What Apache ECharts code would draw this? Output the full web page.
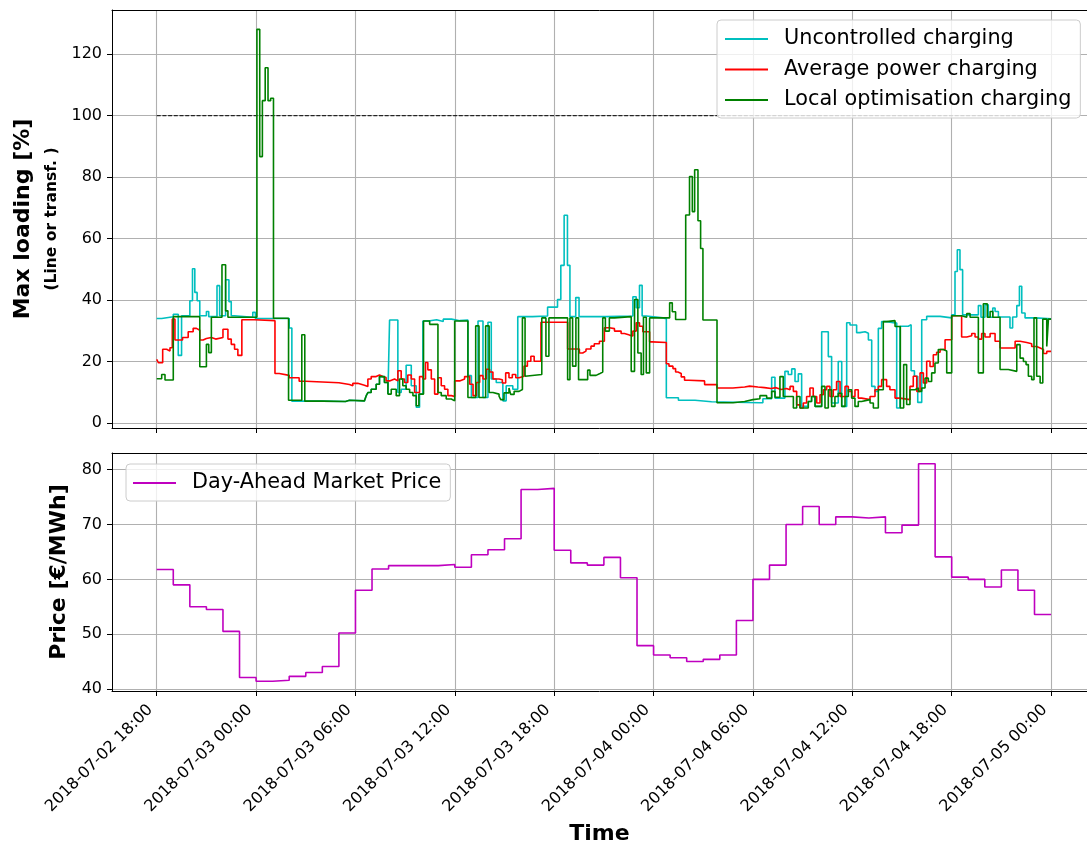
<!DOCTYPE html>
<html>
<head>
<meta charset="utf-8">
<script src="https://cdn.jsdelivr.net/npm/echarts@6/dist/echarts.min.js"></script>
<style>
  html, body { margin: 0; padding: 0; background: #ffffff; }
  #chart { width: 1087px; height: 846px; }
</style>
</head>
<body>
<div id="chart"></div>
<script>
// Hours are counted from 2018-07-02 18:00; each pair is [hour, value] and the value holds until the next pair.
const startTime = Date.UTC(2018, 6, 2, 18, 0);

// Max loading [%] for the three charging strategies
const uncontrolled = [
  [0, 34.0], [0.3, 34.6], [1.0, 35.4], [1.3, 22.0], [1.5, 34.9], [2.0, 39.8], [2.16, 50.2], [2.3, 42.5],
  [2.44, 39.8], [2.6, 34.9], [3.0, 36.3], [3.14, 34.6], [3.64, 44.7], [3.8, 34.9], [4.16, 46.6], [4.36, 39.5],
  [4.5, 34.9], [4.7, 34.4], [5.8, 36.0], [5.96, 34.0], [8.0, 30.9], [8.16, 7.1], [10.0, 7.0], [11.4, 7.4],
  [11.64, 7.2], [12.54, 6.7], [12.65, 8.9], [12.75, 9.9], [12.95, 11.0], [13.25, 12.6], [13.45, 15.1], [13.75, 13.2],
  [13.96, 9.4], [14.06, 33.5], [14.56, 9.9], [14.76, 11.0], [15.06, 18.8], [15.37, 12.1], [15.67, 5.1], [15.87, 9.4],
  [16.07, 33.2], [16.4, 33.6], [16.9, 33.0], [17.3, 33.8], [17.8, 33.3], [18.3, 33.5], [18.79, 15.4], [19.0, 8.3],
  [19.4, 33.2], [19.7, 8.3], [20.0, 32.8], [20.2, 14.3], [20.5, 13.2], [20.9, 7.2], [21.1, 12.1], [21.5, 11.0],
  [21.8, 34.6], [22.69, 34.8], [23.6, 37.7], [24.2, 40.2], [24.4, 51.3], [24.6, 67.6], [24.8, 51.3], [24.95, 34.6],
  [25.3, 40.8], [25.5, 34.6], [27.13, 34.8], [28.75, 41.1], [28.95, 37.5], [29.15, 44.8], [29.31, 34.8], [29.56, 34.2],
  [30.57, 33.9], [30.77, 8.2], [31.5, 7.4], [32.5, 6.9], [33.5, 6.6], [36.4, 6.6], [36.6, 7.9], [37.13, 14.9],
  [37.33, 8.1], [37.93, 16.8], [38.13, 15.8], [38.34, 17.6], [38.54, 13.5], [38.74, 16.0], [38.94, 5.4], [39.34, 7.0],
  [39.54, 8.6], [39.75, 5.4], [40.15, 29.7], [40.55, 21.6], [40.75, 6.5], [41.15, 20.0], [41.36, 5.4], [41.66, 32.6],
  [41.86, 31.9], [42.26, 29.4], [42.46, 29.7], [42.77, 29.2], [42.97, 27.0], [43.17, 11.9], [43.37, 10.3], [43.57, 30.8],
  [43.77, 33.0], [44.07, 32.5], [44.68, 4.9], [44.88, 31.5], [45.38, 32.0], [45.55, 17.0], [45.75, 15.2], [45.95, 6.7],
  [46.19, 33.6], [46.49, 34.7], [47.3, 34.2], [48.0, 35.2], [48.2, 49.3], [48.34, 56.4], [48.5, 49.9], [48.66, 35.2],
  [49.61, 38.2], [49.77, 34.4], [50.01, 38.5], [50.21, 34.4], [50.48, 37.4], [50.62, 36.3], [50.82, 34.5], [51.52, 30.9],
  [51.68, 34.5], [51.93, 38.2], [52.09, 44.5], [52.23, 35.8], [52.43, 34.2], [53.03, 33.9], [54, 33.9]
];

const averagePower = [
  [0, 20.7], [0.1, 19.6], [0.36, 24.0], [0.6, 23.4], [0.8, 24.5], [0.94, 33.8], [1.1, 27.0], [1.56, 27.8],
  [1.9, 29.7], [2.2, 30.8], [2.4, 30.2], [2.6, 27.0], [2.8, 27.5], [3.0, 27.8], [3.3, 27.3], [3.56, 27.8],
  [4.0, 30.5], [4.3, 27.3], [4.5, 25.6], [4.7, 24.0], [4.9, 22.0], [5.14, 33.6], [5.9, 33.3], [7.14, 16.1],
  [7.4, 15.5], [8.0, 14.7], [8.6, 13.6], [9.0, 13.1], [11.0, 12.5], [11.64, 12.1], [11.84, 12.9], [12.14, 12.3],
  [12.54, 11.9], [12.75, 14.3], [12.95, 15.1], [13.25, 15.6], [13.45, 15.1], [13.65, 14.8], [13.85, 13.7], [14.06, 14.3],
  [14.36, 13.7], [14.56, 17.0], [14.76, 14.3], [14.96, 13.2], [15.16, 15.6], [15.37, 14.3], [15.57, 9.9], [15.87, 15.1],
  [16.07, 14.3], [16.23, 19.7], [16.37, 17.3], [16.58, 14.3], [16.78, 9.4], [16.98, 14.7], [17.18, 12.1], [17.38, 11.0],
  [17.58, 8.9], [17.79, 8.6], [17.99, 13.7], [18.29, 14.3], [18.59, 15.1], [18.9, 12.6], [19.1, 8.9], [19.3, 13.2],
  [19.5, 15.4], [19.7, 14.3], [19.9, 17.5], [20.1, 16.6], [20.3, 14.3], [20.67, 14.1], [20.87, 13.0], [21.07, 16.3],
  [21.27, 14.7], [21.47, 15.8], [21.68, 14.7], [21.88, 15.2], [22.18, 18.5], [22.38, 20.1], [22.59, 21.7], [22.79, 20.1],
  [23.2, 32.8], [24.81, 24.1], [25.52, 22.8], [25.72, 23.4], [25.92, 24.1], [26.22, 25.0], [26.42, 25.8], [26.73, 26.6],
  [27.03, 31.0], [27.33, 30.7], [27.64, 29.9], [28.04, 29.1], [28.24, 28.6], [28.55, 28.3], [28.75, 29.9], [28.95, 32.6],
  [29.15, 31.5], [29.35, 29.7], [29.76, 26.4], [29.92, 26.2], [30.77, 19.3], [30.93, 18.5], [31.17, 17.7], [31.33, 16.6],
  [31.47, 16.1], [31.67, 15.0], [31.87, 13.9], [32.13, 13.7], [33.08, 12.5], [33.83, 11.4], [34.79, 11.7], [35.5, 12.0],
  [35.8, 11.7], [36.3, 11.5], [36.7, 11.2], [37.1, 11.5], [37.4, 10.9], [37.7, 11.2], [38.03, 10.8], [38.24, 11.9],
  [38.44, 10.3], [38.64, 5.9], [38.84, 4.9], [39.04, 6.5], [39.24, 8.6], [39.44, 11.4], [39.64, 8.6], [39.85, 6.5],
  [40.05, 9.2], [40.25, 10.8], [40.45, 11.9], [40.65, 8.6], [40.85, 10.8], [41.05, 13.5], [41.26, 8.6], [41.56, 11.9],
  [41.76, 10.3], [41.96, 8.6], [42.16, 10.8], [42.36, 8.1], [42.56, 7.6], [43.07, 8.6], [43.37, 10.8], [43.57, 11.9],
  [43.77, 14.1], [44.07, 11.9], [44.27, 10.8], [44.58, 8.1], [44.88, 7.6], [45.48, 11.9], [45.68, 15.2], [45.89, 10.3],
  [46.09, 16.3], [46.29, 13.0], [46.49, 20.1], [46.69, 18.4], [46.89, 22.2], [47.09, 23.0], [47.3, 23.9], [47.6, 27.1],
  [48.0, 34.9], [48.6, 28.0], [48.91, 28.4], [49.21, 29.1], [49.41, 28.0], [49.61, 27.3], [49.81, 29.1], [50.01, 28.0],
  [50.32, 29.1], [50.62, 26.6], [50.92, 24.4], [51.83, 26.6], [52.13, 26.2], [52.53, 25.8], [52.83, 24.9], [53.13, 24.4],
  [53.34, 23.9], [53.54, 22.6], [53.74, 23.3], [54, 23.3]
];

const localOptimisation = [
  [0, 14.4], [0.3, 15.8], [0.5, 14.0], [1.0, 34.6], [2.6, 18.3], [3.0, 25.6], [3.14, 22.9], [3.3, 34.4],
  [3.94, 51.5], [4.16, 36.5], [4.3, 34.4], [6.05, 128.1], [6.22, 86.7], [6.38, 104.9], [6.55, 115.6], [6.72, 104.9],
  [6.88, 105.7], [7.05, 34.1], [7.96, 7.4], [8.76, 28.7], [8.94, 7.1], [10.0, 7.0], [11.4, 7.4], [11.64, 7.2],
  [12.54, 6.7], [12.65, 8.9], [12.75, 9.9], [12.95, 11.0], [13.25, 12.6], [13.45, 15.1], [13.75, 13.2], [13.96, 9.4],
  [14.16, 11.0], [14.46, 8.9], [14.66, 14.3], [14.86, 12.1], [15.06, 11.0], [15.27, 9.9], [15.47, 8.9], [15.67, 5.6],
  [15.83, 9.4], [16.11, 33.2], [16.48, 32.1], [16.98, 9.9], [17.18, 8.9], [17.48, 7.8], [17.79, 7.2], [17.99, 33.2],
  [18.79, 8.3], [19.26, 31.6], [19.46, 8.3], [19.86, 31.6], [20.07, 9.9], [20.3, 9.4], [20.67, 8.7], [20.77, 7.6],
  [20.97, 9.8], [21.27, 11.4], [21.37, 9.3], [21.58, 10.3], [21.88, 10.9], [22.08, 34.2], [22.24, 15.2], [22.34, 15.8],
  [23.25, 34.2], [23.5, 21.7], [23.68, 34.2], [24.81, 14.1], [24.95, 34.2], [25.11, 18.5], [25.31, 34.2], [25.47, 14.1],
  [26.02, 17.2], [26.16, 15.5], [26.53, 16.0], [26.73, 16.6], [26.93, 34.2], [27.09, 29.9], [27.33, 34.2], [27.64, 34.6],
  [28.65, 16.8], [28.85, 40.2], [29.05, 22.8], [29.25, 15.8], [29.39, 34.4], [29.56, 16.3], [29.76, 34.2], [30.97, 39.1],
  [31.13, 36.2], [31.33, 33.7], [31.94, 67.7], [32.17, 80.2], [32.34, 68.8], [32.48, 82.4], [32.68, 65.8], [32.84, 56.8],
  [32.98, 33.5], [33.83, 6.6], [34.8, 7.0], [35.5, 7.6], [36.0, 7.9], [36.42, 8.9], [36.83, 8.1], [37.13, 10.3],
  [37.33, 8.4], [37.63, 15.1], [37.83, 8.6], [38.44, 4.9], [38.64, 8.6], [38.84, 4.9], [39.34, 7.0], [39.54, 8.6],
  [39.75, 5.4], [40.15, 11.9], [40.35, 4.9], [40.55, 10.8], [40.75, 5.4], [40.95, 8.6], [41.15, 9.7], [41.36, 5.4],
  [41.56, 8.6], [41.76, 10.8], [41.96, 8.1], [42.16, 5.4], [42.36, 7.0], [42.56, 7.6], [43.07, 6.5], [43.27, 4.9],
  [43.57, 10.8], [43.87, 33.0], [44.07, 33.3], [44.58, 31.4], [44.9, 4.9], [45.1, 19.0], [45.28, 6.0], [45.48, 10.8],
  [45.79, 11.4], [45.99, 10.3], [46.19, 11.4], [46.39, 14.6], [46.59, 13.5], [46.79, 16.3], [46.99, 19.5], [47.19, 23.9],
  [47.5, 23.4], [47.7, 16.3], [48.0, 34.9], [48.6, 34.4], [48.91, 35.6], [49.11, 34.4], [49.61, 16.3], [49.91, 38.8],
  [50.15, 34.4], [50.32, 36.3], [50.48, 34.4], [50.92, 17.4], [51.42, 16.8], [51.93, 25.5], [52.13, 21.1], [52.33, 20.0],
  [52.49, 19.0], [52.63, 15.2], [52.83, 14.1], [52.97, 34.2], [53.13, 15.2], [53.34, 13.0], [53.5, 33.8], [53.74, 24.9],
  [53.84, 33.8], [54, 33.8]
];

// Rated loading limit, drawn as a dashed reference line across the period
const loadingLimit = 100;
const limitSpan = [0, 54];

// Day-ahead market price [€/MWh], one value per hour from 18:00
const priceHours = [
  0, 1, 2, 3, 4, 5, 6, 7, 8, 9, 10, 11, 12, 13, 14, 15, 16, 17, 18, 19, 20, 21, 22, 23, 24, 25, 26,
  27, 28, 29, 30, 31, 32, 33, 34, 35, 36, 37, 38, 39, 40, 41, 42, 43, 44, 45, 46, 47, 48, 49, 50, 51, 52, 53
];
const priceValues = [
  61.8, 59.0, 55.0, 54.5, 50.5, 42.1,
  41.4, 41.6, 42.3, 43.0, 44.1, 50.2, 58.0, 61.9, 62.5, 62.5, 62.5, 62.7,
  62.2, 64.5, 65.4, 67.4, 76.4, 76.6, 65.3, 63.0, 62.6, 64.0, 60.3, 47.9,
  46.2, 45.7, 45.0, 45.4, 46.2, 52.5, 60.0, 62.6, 70.0, 73.3, 70.0, 71.4,
  71.2, 71.4, 68.5, 69.9, 81.1, 64.1, 60.4, 60.0, 58.6, 61.7, 58.0, 53.6
];
const priceEnd = 54;

// Axis ticks
const hourTicks = [0, 6, 12, 18, 24, 30, 36, 42, 48, 54];
const loadingTicks = [0, 20, 40, 60, 80, 100, 120];
const priceTicks = [40, 50, 60, 70, 80];

// The time axis runs past the right edge of the page, so its visible span ends at 56.17 h
const HOUR_MIN = -2.7;
const HOUR_MAX = 56.17;

const FONT = 'DejaVu Sans';
const GRID_LINE = { color: '#b0b0b0', width: 1.1 };
const AXIS_LINE = { color: '#000000', width: 1 };

function pad2(n) { return String(n).padStart(2, '0'); }
function hourLabel(h) {
  const d = new Date(startTime + h * 3600 * 1000);
  return d.getUTCFullYear() + '-' + pad2(d.getUTCMonth() + 1) + '-' + pad2(d.getUTCDate()) +
    ' ' + pad2(d.getUTCHours()) + ':' + pad2(d.getUTCMinutes());
}

const priceData = priceHours.map((h, i) => [h, priceValues[i]]);
priceData.push([priceEnd, priceValues[priceValues.length - 1]]);
const limitData = limitSpan.map(h => [h, loadingLimit]);

function xAxisFor(gridIndex, withLabels) {
  return {
    type: 'value', gridIndex: gridIndex, min: HOUR_MIN, max: HOUR_MAX, position: 'bottom',
    axisLine: { show: true, onZero: false, lineStyle: AXIS_LINE },
    axisTick: { show: true, customValues: hourTicks, length: 5, lineStyle: AXIS_LINE },
    axisLabel: {
      show: withLabels, customValues: hourTicks, rotate: 45, margin: 10, padding: [0, 9, 0, 0],
      formatter: hourLabel, fontFamily: FONT, fontSize: 16, color: '#000000'
    },
    splitLine: { show: true, lineStyle: GRID_LINE },
    name: withLabels ? 'Time' : '',
    nameLocation: 'middle', nameGap: 132,
    nameTextStyle: { fontFamily: FONT, fontSize: 22, fontWeight: 'bold', color: '#000000' }
  };
}

// Plain frame line along the top of a panel
function topFrame(gridIndex) {
  return {
    type: 'value', gridIndex: gridIndex, min: HOUR_MIN, max: HOUR_MAX, position: 'top',
    axisLine: { show: true, onZero: false, lineStyle: AXIS_LINE },
    axisTick: { show: false }, axisLabel: { show: false }, splitLine: { show: false }
  };
}

function lineSeries(name, data, color) {
  return {
    name: name, type: 'line', xAxisIndex: 0, yAxisIndex: 0, step: 'end',
    data: data, symbol: 'none', showSymbol: false,
    lineStyle: { color: color, width: 1.6 }, itemStyle: { color: color },
    emphasis: { disabled: true }
  };
}

const chart = echarts.init(document.getElementById('chart'), null, { renderer: 'canvas' });

chart.setOption({
  animation: false,
  backgroundColor: '#ffffff',
  textStyle: { fontFamily: FONT },
  grid: [
    { left: 112, top: 10, right: 0, height: 418 },
    { left: 112, top: 453, right: 0, height: 238 }
  ],
  xAxis: [xAxisFor(0, false), xAxisFor(1, true), topFrame(0), topFrame(1)],
  yAxis: [
    {
      type: 'value', gridIndex: 0, min: -1.63, max: 134.4,
      axisLine: { show: true, onZero: false, lineStyle: AXIS_LINE },
      axisTick: { show: true, customValues: loadingTicks, length: 5, lineStyle: AXIS_LINE },
      axisLabel: { customValues: loadingTicks, margin: 10, fontFamily: FONT, fontSize: 16, color: '#000000' },
      splitLine: { show: true, lineStyle: GRID_LINE },
      name: '{a|Max loading [%]}\n{b|(Line or transf. )}',
      nameLocation: 'middle', nameRotate: 90, nameGap: 45,
      nameTextStyle: {
        color: '#000000',
        rich: {
          a: { fontFamily: FONT, fontSize: 22, fontWeight: 'bold', lineHeight: 28, color: '#000000' },
          b: { fontFamily: FONT, fontSize: 15.5, fontWeight: 'bold', lineHeight: 30, color: '#000000' }
        }
      }
    },
    {
      type: 'value', gridIndex: 1, min: 39.63, max: 83.05,
      axisLine: { show: true, onZero: false, lineStyle: AXIS_LINE },
      axisTick: { show: true, customValues: priceTicks, length: 5, lineStyle: AXIS_LINE },
      axisLabel: { customValues: priceTicks, margin: 10, fontFamily: FONT, fontSize: 16, color: '#000000' },
      splitLine: { show: true, lineStyle: GRID_LINE },
      name: 'Price [€/MWh]',
      nameLocation: 'middle', nameRotate: 90, nameGap: 38,
      nameTextStyle: { fontFamily: FONT, fontSize: 22, fontWeight: 'bold', color: '#000000' }
    }
  ],
  legend: [
    {
      data: ['Uncontrolled charging', 'Average power charging', 'Local optimisation charging'],
      orient: 'vertical', left: 717, top: 20,
      icon: 'rect', itemWidth: 43, itemHeight: 2, itemGap: 6.5,
      padding: [7, 9, 6, 8],
      selectedMode: false,
      backgroundColor: 'rgba(255,255,255,0.8)', borderColor: '#cccccc', borderWidth: 1, borderRadius: 4,
      textStyle: { fontFamily: FONT, fontSize: 20.8, color: '#000000', lineHeight: 24, padding: [0, 0, 0, 11] }
    },
    {
      data: ['Day-Ahead Market Price'],
      orient: 'vertical', left: 126, top: 464,
      icon: 'rect', itemWidth: 43, itemHeight: 2,
      padding: [7, 9, 6, 7],
      selectedMode: false,
      backgroundColor: 'rgba(255,255,255,0.8)', borderColor: '#cccccc', borderWidth: 1, borderRadius: 4,
      textStyle: { fontFamily: FONT, fontSize: 20.8, color: '#000000', lineHeight: 24, padding: [0, 0, 0, 11] }
    }
  ],
  series: [
    {
      type: 'line', xAxisIndex: 0, yAxisIndex: 0, data: limitData,
      symbol: 'none', silent: true,
      lineStyle: { color: '#000000', width: 1, type: [4, 1.7] },
      emphasis: { disabled: true }
    },
    lineSeries('Uncontrolled charging', uncontrolled, '#00bfbf'),
    lineSeries('Average power charging', averagePower, '#ff0000'),
    lineSeries('Local optimisation charging', localOptimisation, '#008000'),
    {
      name: 'Day-Ahead Market Price', type: 'line', xAxisIndex: 1, yAxisIndex: 1, step: 'end',
      data: priceData, symbol: 'none', showSymbol: false,
      lineStyle: { color: '#bf00bf', width: 1.6 }, itemStyle: { color: '#bf00bf' },
      emphasis: { disabled: true }
    }
  ]
});
</script>
</body>
</html>
